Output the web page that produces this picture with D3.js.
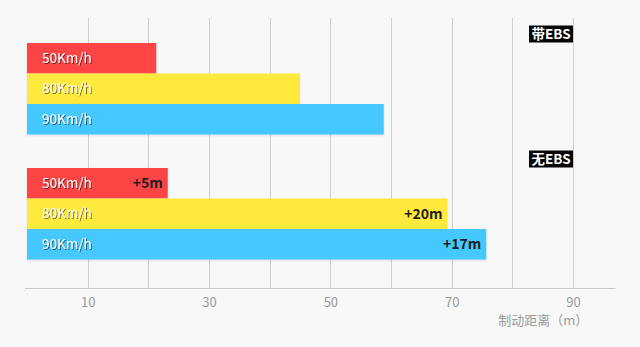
<!DOCTYPE html>
<html>
<head>
<meta charset="utf-8">
<script src="https://cdn.jsdelivr.net/npm/d3@7/dist/d3.min.js"></script>
<style>
  html, body { margin: 0; padding: 0; background: #f8f8f8; }
  svg { display: block; font-family: "Noto Sans CJK SC", "Noto Sans", sans-serif; }
</style>
</head>
<body>
<svg id="chart" width="640" height="347"></svg>
<script>
// Braking distance (m) by speed, with and without EBS
const groups = ["带EBS", "无EBS"];
const speeds = ["50Km/h", "80Km/h", "90Km/h"];
const withEBS = [21.3, 45.0, 58.8];
const withoutEBS = [23.2, 69.3, 75.7];
const extraLabels = ["+5m", "+20m", "+17m"];
const tickValues = [10, 30, 50, 70, 90];
const gridValues = [10, 20, 30, 40, 50, 60, 70, 80, 90];
const axisTitle = "制动距离（m）";

const colors = ["#fd4545", "#ffe93e", "#45c8fd"];

const svg = d3.select("#chart");

const x = d3.scaleLinear().domain([0, 97]).range([27, 615.5]);
const axisY = 288.5;
const gridTop = 18;

const yGroup = d3.scaleBand().domain(groups).range([43, 259.5]).paddingInner(0.268).paddingOuter(0);
const yBar = d3.scaleBand().domain(speeds).range([0, yGroup.bandwidth()]).padding(0);

const defs = svg.append("defs");
const ts = defs.append("filter").attr("id", "txtShadow").attr("x", "-20%").attr("y", "-30%").attr("width", "140%").attr("height", "160%");
ts.append("feDropShadow").attr("dx", 1).attr("dy", 1).attr("stdDeviation", 0.6).attr("flood-color", "#000").attr("flood-opacity", 0.55);
const bs = defs.append("filter").attr("id", "barShadow").attr("x", "-5%").attr("y", "-20%").attr("width", "110%").attr("height", "150%");
bs.append("feDropShadow").attr("dx", 0).attr("dy", 1).attr("stdDeviation", 1).attr("flood-color", "#000").attr("flood-opacity", 0.12);

// vertical grid
svg.append("g").selectAll("line").data(gridValues).join("line")
  .attr("x1", d => Math.round(x(d)) + 0.5).attr("x2", d => Math.round(x(d)) + 0.5)
  .attr("y1", gridTop).attr("y2", axisY)
  .attr("stroke", "#cfcfcf").attr("stroke-width", 1);

// bottom axis
const axis = d3.axisBottom(x).tickValues(tickValues).tickSize(0).tickPadding(9).tickFormat(d3.format("d"));
const gAxis = svg.append("g").attr("transform", `translate(0,${axisY})`).call(axis);
gAxis.select(".domain").attr("stroke", "#c8c8c8").attr("d", `M${x(0) - 2},0H${x(97)}`);
gAxis.selectAll("text").attr("fill", "#9a9a9a").style("font-size", "13px").style("font-family", "'Noto Sans CJK SC', sans-serif");

svg.append("text")
  .attr("x", x(92.5)).attr("y", 325)
  .attr("text-anchor", "end")
  .attr("fill", "#9a9a9a").style("font-size", "13px")
  .text(axisTitle);

const series = [withEBS, withoutEBS];

groups.forEach((g, gi) => {
  const gy = yGroup(g);
  const gSel = svg.append("g").attr("transform", `translate(0,${gy})`);
  const rows = speeds.map((s, i) => ({ speed: s, value: series[gi][i], color: colors[i], label: gi === 1 ? extraLabels[i] : null }));

  gSel.selectAll("rect").data(rows).join("rect")
    .attr("x", x(0)).attr("y", d => yBar(d.speed))
    .attr("width", d => x(d.value) - x(0)).attr("height", yBar.bandwidth())
    .attr("fill", d => d.color)
    .attr("filter", "url(#barShadow)");

  gSel.selectAll("text.speed").data(rows).join("text")
    .attr("class", "speed")
    .attr("x", x(0) + 15).attr("y", d => yBar(d.speed) + yBar.bandwidth() / 2)
    .attr("dy", "0.35em")
    .attr("fill", "#fff").style("font-size", "13.5px")
    .attr("filter", "url(#txtShadow)")
    .text(d => d.speed);

  gSel.selectAll("text.extra").data(rows.filter(d => d.label)).join("text")
    .attr("class", "extra")
    .attr("x", d => x(d.value) - 5).attr("y", d => yBar(d.speed) + yBar.bandwidth() / 2)
    .attr("dy", "0.35em").attr("text-anchor", "end")
    .attr("fill", "#1e1e1e").style("font-size", "14px").style("font-weight", "bold")
    .text(d => d.label);

  // group tag box
  const tagW = 44, tagH = 17;
  const tag = svg.append("g").attr("transform", `translate(${x(90) - tagW},${gy - tagH - 0.5})`);
  tag.append("rect").attr("width", tagW).attr("height", tagH).attr("fill", "#050505");
  tag.append("text").attr("x", tagW / 2).attr("y", tagH / 2).attr("dy", "0.36em")
    .attr("text-anchor", "middle").attr("fill", "#fff")
    .style("font-size", "13.5px").style("font-weight", "bold")
    .text(g);
});
</script>
</body>
</html>
